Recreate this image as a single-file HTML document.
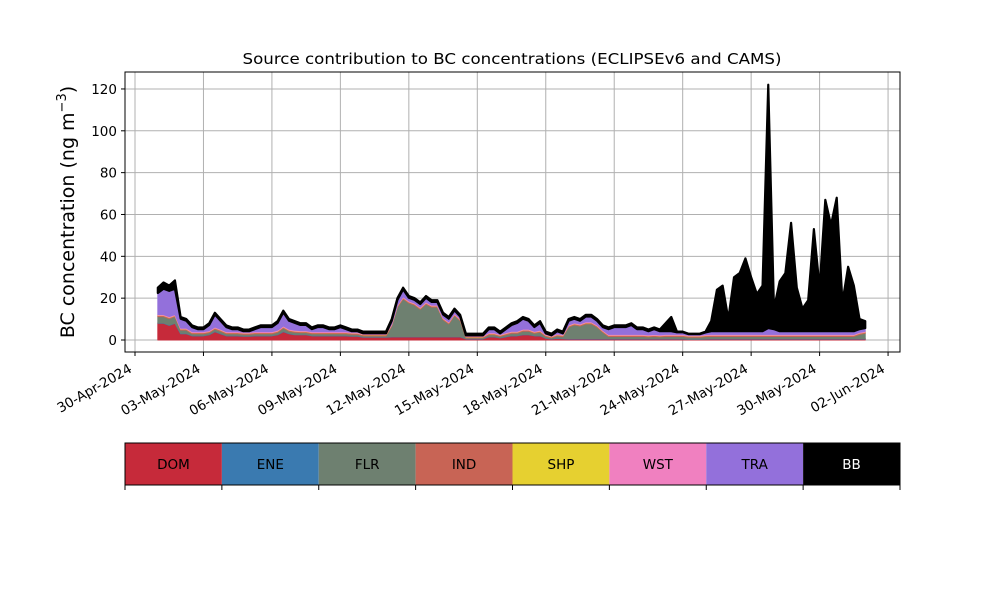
<!DOCTYPE html>
<html><head><meta charset="utf-8"><style>
body{margin:0;background:#fff;}
svg{display:block;font-family:"DejaVu Sans","Liberation Sans",sans-serif;}
</style></head><body>
<svg id="chart" width="1000" height="600" viewBox="0 0 1000 600">
<rect width="1000" height="600" fill="#fff"/>
<g id="grid"></g>
<g id="areas"></g>
<rect x="125" y="72" width="775" height="280" fill="none" stroke="#000" stroke-width="1"/>
<g id="axes"></g>
<text x="512" y="64" text-anchor="middle" font-size="15.5" textLength="539" lengthAdjust="spacingAndGlyphs">Source contribution to BC concentrations (ECLIPSEv6 and CAMS)</text>
<text transform="translate(74,212) rotate(-90)" text-anchor="middle" font-size="19">BC concentration (ng m<tspan dy="-8" font-size="13">−3</tspan><tspan dy="8">)</tspan></text>
<g id="legend"></g>
</svg>
<script>
const seriesNames = ["DOM","ENE","FLR","IND","SHP","WST","TRA","BB"];
const seriesColors = ["#c62a3a","#3a7ab0","#6e8070","#c86455","#e6d030","#f080c0","#9370db","#000000"];
const xTickLabels = ["30-Apr-2024","03-May-2024","06-May-2024","09-May-2024","12-May-2024","15-May-2024","18-May-2024","21-May-2024","24-May-2024","27-May-2024","30-May-2024","02-Jun-2024"];
const xTickDays = [0,3,6,9,12,15,18,21,24,27,30,33];
const yTicks = [0,20,40,60,80,100,120];
// 6-hourly samples starting 01-May-2024 00:00
const DOM = [8,8,7,8,3,3,2,2,2,2.5,4,3,2,2,2,1.8,1.8,2,2,2,2,2.5,4,3,2.5,2.5,2.5,2,2,2,2,2,2,2,1.8,1.8,1.3,1.3,1.3,1.3,1.3,
1.5,1.5,1.5,1.5,1.5,1.5,1.5,1.5,1.5,1.5,1.5,1.5,1.5,0.5,0.5,0.5,0.5,1.5,1.5,1,1.5,2,2,2.5,2.5,2,2,0.8,0.5,0.8,0.6,
0.5,0.5,0.5,0.5,0.5,0.5,0.5,0.5,0.5,0.5,0.5,0.5,0.5,0.5,0.5,0.5,0.5,0.5,0.5,0.5,0.5,0.3,0.3,0.3,0.4,
0.5,0.5,0.5,0.5,0.5,0.5,0.5,0.5,0.5,0.5,0.5,0.5,0.5,0.5,0.5,0.5,0.5,0.5,0.5,0.5,0.5,0.5,0.5,0.5,0.5,0.5,0.5,0.5];
const ENE = [0.2,0.2,0.2,0.2,0.2,0.2,0.2,0.2,0.2,0.2,0.2,0.2,0.2,0.2,0.2,0.2,0.2,0.2,0.2,0.2,0.2,0.2,0.2,0.2,0.2,
0.2,0.2,0.2,0.2,0.2,0.2,0.2,0.2,0.2,0.2,0.2,0.2,0.2,0.2,0.2,0.2,0.2,0.2,0.2,0.2,0.2,0.2,0.2,0.2,0.2,
0.2,0.2,0.2,0.2,0.2,0.2,0.2,0.2,0.2,0.2,0.2,0.2,0.2,0.2,0.2,0.2,0.2,0.2,0.2,0.2,0.2,0.2,0.2,0.2,0.2,
0.2,0.2,0.2,0.2,0.2,0.2,0.2,0.2,0.2,0.2,0.2,0.2,0.2,0.2,0.2,0.2,0.2,0.2,0.2,0.2,0.2,0.2,0.2,0.2,0.2,
0.2,0.2,0.2,0.2,0.2,0.2,0.2,0.2,0.2,0.2,0.2,0.2,0.2,0.2,0.2,0.2,0.2,0.2,0.2,0.2,0.2,0.2,0.2,0.2,0.2];
const FLR = [3,3,3,3,1.5,1.5,0.8,0.8,0.8,0.8,1,1,0.8,0.8,0.8,0.7,0.7,0.8,0.8,0.8,0.8,1,1.5,1,1,
0.8,0.8,0.8,0.8,0.8,0.8,0.8,0.8,0.8,0.7,0.7,0.5,0.5,0.5,0.5,0.5,
5,14,18,16,15,13,15.5,14,14,8,6,10,7.5,0.3,0.3,0.3,0.3,0.8,0.8,0.5,0.8,1,1,1.5,1.5,1,1.5,0.7,0.3,1,0.8,
5.5,6.5,6,7,7,5.5,3,1,1,1,1,1,1,1,0.8,1,0.8,1,1,1,1,0.8,0.8,0.8,1,
1,1,1,1,1,1,1,1,1,1,1,1,1,1,1,1,1,1,1,1,1,1,1,1,1,1,2,2.5];
const IND = [0.5,0.5,0.5,0.5,0.5,0.5,0.5,0.5,0.5,0.5,0.5,0.5,0.5,0.5,0.5,0.5,0.5,0.5,0.5,0.5,0.5,0.5,0.5,0.5,0.5,
0.5,0.5,0.5,0.5,0.5,0.5,0.5,0.5,0.5,0.5,0.5,0.5,0.5,0.5,0.5,0.5,0.5,0.5,0.5,0.5,0.5,0.5,0.5,0.5,0.5,
0.5,0.5,0.5,0.5,0.5,0.5,0.5,0.5,0.5,0.5,0.5,0.5,0.5,0.5,0.5,0.5,0.5,0.5,0.5,0.5,0.5,0.5,0.5,0.5,0.5,
0.5,0.5,0.5,0.5,0.5,0.5,0.5,0.5,0.5,0.5,0.5,0.5,0.5,0.5,0.5,0.5,0.5,0.5,0.5,0.5,0.5,0.5,0.5,0.5,0.5,
0.5,0.5,0.5,0.5,0.5,0.5,0.5,0.5,0.5,0.5,0.5,0.5,0.5,0.5,0.5,0.5,0.5,0.5,0.5,0.5,0.5,0.5,0.5,0.5,0.5];
const SHP = [0.1,0.1,0.1,0.1,0.1,0.1,0.1,0.1,0.1,0.1,0.1,0.1,0.1,0.1,0.1,0.1,0.1,0.1,0.1,0.1,0.1,0.1,0.1,0.1,0.1,
0.1,0.1,0.1,0.1,0.1,0.1,0.1,0.1,0.1,0.1,0.1,0.1,0.1,0.1,0.1,0.1,0.1,0.1,0.1,0.1,0.1,0.1,0.1,0.1,0.1,
0.1,0.1,0.1,0.1,0.1,0.1,0.1,0.1,0.1,0.1,0.1,0.1,0.1,0.1,0.1,0.1,0.1,0.1,0.1,0.1,0.1,0.1,0.1,0.1,0.1,
0.1,0.1,0.1,0.1,0.1,0.1,0.1,0.1,0.1,0.1,0.1,0.1,0.1,0.1,0.1,0.1,0.1,0.1,0.1,0.1,0.1,0.1,0.1,0.1,0.1,
0.1,0.1,0.1,0.1,0.1,0.1,0.1,0.1,0.1,0.1,0.1,0.1,0.1,0.1,0.1,0.1,0.1,0.1,0.1,0.1,0.1,0.1,0.1,0.1,0.1];
const WST = [0.4,0.4,0.4,0.4,0.4,0.4,0.4,0.4,0.4,0.4,0.4,0.4,0.4,0.4,0.4,0.4,0.4,0.4,0.4,0.4,0.4,0.4,0.4,0.4,0.4,
0.4,0.4,0.4,0.4,0.4,0.4,0.4,0.4,0.4,0.4,0.4,0.4,0.4,0.4,0.4,0.4,0.4,0.4,0.4,0.4,0.4,0.4,0.4,0.4,0.4,
0.4,0.4,0.4,0.4,0.4,0.4,0.4,0.4,0.4,0.4,0.4,0.4,0.4,0.4,0.4,0.4,0.4,0.4,0.4,0.4,0.4,0.4,0.4,0.4,0.4,
0.4,0.4,0.4,0.4,0.4,0.4,0.4,0.4,0.4,0.4,0.4,0.4,0.4,0.4,0.4,0.4,0.4,0.4,0.4,0.4,0.4,0.4,0.4,0.4,0.4,
0.4,0.4,0.4,0.4,0.4,0.4,0.4,0.4,0.4,0.4,0.4,0.4,0.4,0.4,0.4,0.4,0.4,0.4,0.4,0.4,0.4,0.4,0.4,0.4,0.4];
const TRA = [10.3,12.3,12.3,12.3,
4.5,3.5,2.2,1.2,1.2,2.7,6,4,2.2,1.2,1.2,0.5,0.5,1.2,2.2,2.2,2.2,3.5,6.5,4,3.5,2.7,2.7,1.2,2.2,2.2,1.2,1.2,2.2,1.2,0.5,0.5,0.2,0.2,0.2,0.2,0.2,
1.5,2.5,3.5,1.5,1.5,1.5,2,1.5,1.5,1.5,1.5,1.5,1,
0.2,0.2,0.2,0.2,1.7,1.7,0.5,1.7,3,4,5,4,2,3.5,0.5,0.2,1.2,0.6,
2,2,1.5,2.5,2.5,2,1.5,2.5,3.5,3.5,3.5,4.5,2.5,2.5,1.7,2.5,1.7,
1.5,1.5,1,1,0.5,0.5,0.5,1,
1.5,1.5,1.5,1.5,1.5,1.5,1.5,1.5,1.5,1.5,3,2.5,1.5,1.5,1.5,1.5,1.5,1.5,1.5,1.5,1.5,1.5,1.5,1.5,1.5,1.5,1.5,1.5];
const BB = [2.5,3,2.5,4,
0.8,0.8,0.8,0.8,0.8,0.8,0.8,0.8,0.8,0.8,
0.8,0.8,0.8,0.8,0.8,0.8,0.8,0.8,0.8,0.8,
0.8,0.8,0.8,0.8,0.8,0.8,0.8,0.8,0.8,0.8,
0.8,0.8,0.8,0.8,0.8,0.8,0.8,0.8,0.8,0.8,
0.8,0.8,0.8,0.8,0.8,0.8,0.8,0.8,0.8,0.8,
0.8,0.8,0.8,0.8,0.8,0.8,0.8,0.8,0.8,0.8,
0.8,0.8,0.8,0.8,0.8,0.8,0.8,0.8,0.8,0.8,
0.8,0.8,0.8,0.8,0.8,0.8,0.8,0.8,0.8,0.8,
0.8,0.8,0.8,0.8,0.8,
3.8,6.8,0.3,0.3,0.2,0.2,0.2,0.4,
4.8,19.8,21.8,5.8,25.8,27.8,34.8,25.8,17.8,21.8,116.3,9.8,23.8,27.8,51.8,20.8,10.8,14.8,48.8,20.8,62.8,50.8,63.8,13.8,30.8,21.8,4.8,3.3];
const series = [DOM,ENE,FLR,IND,SHP,WST,TRA,BB];

const NS="http://www.w3.org/2000/svg";
function xScale(day){return 135 + day*22.82;}
function yScale(v){return 340 - v*2.092;}
function dayOf(i){return 1 + i/4;}
function mk(tag,attrs,parent){const e=document.createElementNS(NS,tag);for(const k in attrs)e.setAttribute(k,attrs[k]);parent.appendChild(e);return e;}

const grid=document.getElementById('grid');
const axes=document.getElementById('axes');
xTickDays.forEach((d,k)=>{
  const x=xScale(d);
  const gl=mk('line',{x1:x,x2:x,y1:72,y2:352,stroke:'#b0b0b0','stroke-width':1},grid);
  
  
  const t=mk('line',{x1:x,x2:x,y1:352,y2:356,stroke:'#000'},axes);
  
  
  const lb=mk('text',{transform:`translate(${x-7},${363}) rotate(-30)`,'text-anchor':'end','font-size':13.5,'dominant-baseline':'hanging'},axes);
  lb.textContent=xTickLabels[k];
  
  
});
yTicks.forEach(v=>{
  const y=yScale(v);
  const gl=mk('line',{x1:125,x2:900,y1:y,y2:y,stroke:'#b0b0b0','stroke-width':1},grid);
  
  
  const t=mk('line',{x1:121,x2:125,y1:y,y2:y,stroke:'#000'},axes);
  
  
  const lb=mk('text',{x:117,y:y+5,'text-anchor':'end','font-size':13.5},axes);
  lb.textContent=String(v);
  
  
});

const areas=document.getElementById('areas');
const n=DOM.length;
let base=new Array(n).fill(0);
series.forEach((s,k)=>{
  const top=base.map((b,i)=>b+s[i]);
  let d='';
  for(let i=0;i<n;i++) d+=(i?'L':'M')+xScale(dayOf(i)).toFixed(2)+','+yScale(top[i]).toFixed(2);
  for(let i=n-1;i>=0;i--) d+='L'+xScale(dayOf(i)).toFixed(2)+','+yScale(base[i]).toFixed(2);
  d+='Z';
  const p=mk('path',{d:d,fill:seriesColors[k],stroke:seriesColors[k],'stroke-width':seriesNames[k]==='BB'?2.2:1,'stroke-linejoin':'round'},areas);
  
  
  base=top;
});

const legend=document.getElementById('legend');
const lw=775/seriesNames.length;
seriesNames.forEach((nm,k)=>{
  const x=125+k*lw;
  const r=mk('rect',{x:x,y:443,width:lw,height:42,fill:seriesColors[k]},legend);
  
  
  const t=mk('text',{x:x+lw/2,y:469,'text-anchor':'middle','font-size':13.5,fill:nm==='BB'?'#fff':'#000'},legend);
  t.textContent=nm;
  
  
});
for(let k=0;k<=seriesNames.length;k++){
  const x=125+k*lw;
  const tk=mk('line',{x1:x,x2:x,y1:485,y2:490,stroke:'#000'},legend);
  
  
}
const lf=mk('rect',{x:125,y:443,width:775,height:42,fill:'none',stroke:'#000'},legend);


</script>
</body></html>
